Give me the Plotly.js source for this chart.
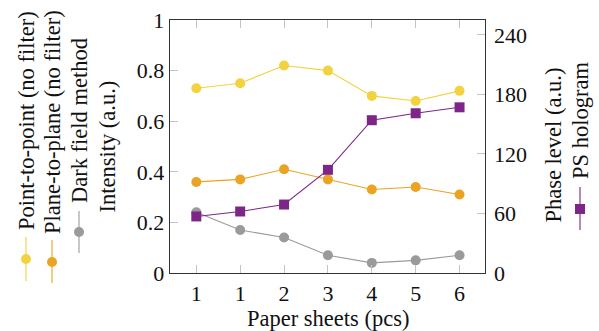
<!DOCTYPE html>
<html>
<head>
<meta charset="utf-8">
<script src="https://cdn.plot.ly/plotly-3.0.1.min.js"></script>
<style>html,body{margin:0;padding:0;background:#fff;}#chart{width:599px;height:331px;}</style>
</head>
<body>
<div id="chart"></div>
<script>
// ---- data ----
const xIndex = [0, 1, 2, 3, 4, 5, 6];
const xTickLabels = ['1', '1', '2', '3', '4', '5', '6'];
const pointToPoint = [0.73, 0.75, 0.82, 0.80, 0.70, 0.68, 0.72];
const planeToPlane = [0.36, 0.37, 0.41, 0.37, 0.33, 0.34, 0.31];
const darkField = [0.24, 0.17, 0.14, 0.07, 0.04, 0.05, 0.07];
const psHologram = [57, 62, 69, 104, 154, 161, 167];
const leftTicks = [0, 0.2, 0.4, 0.6, 0.8, 1];
const leftTickText = ['0', '0.2', '0.4', '0.6', '0.8', '1'];
const rightTicks = [0, 60, 120, 180, 240];

// ---- style ----
const C_YEL = '#f2d23e', C_ORG = '#eaa323', C_GRY = '#9a9a9a', C_PUR = '#7d2687';
const FONT = '"Liberation Serif", "Times New Roman", serif';
const FS = 22.5;
const W = 599, H = 331;
const M = {l: 170, r: 114, t: 20, b: 58};
const PW = W - M.l - M.r, PH = H - M.t - M.b;
const px = v => (v - M.l) / PW;
const py = v => (H - M.b - v) / PH;

function tr(y, color, yaxis, symbol) {
  return {x: xIndex, y: y, type: 'scatter', mode: 'lines+markers', yaxis: yaxis,
    line: {color: color, width: 1.1}, marker: {color: color, size: 10, symbol: symbol},
    showlegend: false, hoverinfo: 'skip'};
}
const data = [
  tr(pointToPoint, C_YEL, 'y', 'circle'),
  tr(planeToPlane, C_ORG, 'y', 'circle'),
  tr(darkField, C_GRY, 'y', 'circle'),
  tr(psHologram, C_PUR, 'y2', 'square')
];

function rotText(text, x, y) {
  return {text: text, xref: 'paper', yref: 'paper', x: px(x), y: py(y), textangle: -90,
    showarrow: false, xanchor: 'center', yanchor: 'middle', font: {family: FONT, size: FS, color: '#111'}};
}
const annotations = [
  rotText('Point-to-point (no filter)', 26, 121),
  rotText('Plane-to-plane (no filter)', 52, 122),
  rotText('Dark field method', 79, 121),
  rotText('Intensity (a.u.)', 107, 146.5),
  rotText('Phase level (a.u.)', 553, 145.5),
  rotText('PS hologram', 580, 121),
  {text: 'Paper sheets (pcs)', xref: 'paper', yref: 'paper', x: 0.5, y: py(318.5), showarrow: false,
    xanchor: 'center', yanchor: 'middle', borderpad: 0, font: {family: FONT, size: FS, color: '#111'}}
];

function legSym(x, yc, y0, y1, color, kind) {
  const s = [{type: 'line', xref: 'paper', yref: 'paper', x0: px(x), x1: px(x), y0: py(y0), y1: py(y1),
    line: {color: color, width: 1.1}}];
  s.push({type: kind === 'square' ? 'rect' : 'circle', xref: 'paper', yref: 'paper',
    xsizemode: 'pixel', ysizemode: 'pixel', xanchor: px(x), yanchor: py(yc),
    x0: -5, x1: 5, y0: -5, y1: 5, fillcolor: color, line: {width: 0}});
  return s;
}
const shapes = [].concat(
  legSym(26, 259, 237, 281, C_YEL, 'circle'),
  legSym(52, 262, 240, 283, C_ORG, 'circle'),
  legSym(79, 232, 211, 253, C_GRY, 'circle'),
  legSym(580, 209, 187, 230, C_PUR, 'square')
);

const tickFont = {family: FONT, size: 22, color: '#111'};
const layout = {
  width: W, height: H, margin: M, paper_bgcolor: '#fff', plot_bgcolor: '#fff',
  showlegend: false,
  xaxis: {range: [-0.6, 6.58], tickvals: xIndex, ticktext: xTickLabels, ticks: 'inside', ticklen: 8,
    tickcolor: '#c4c4c4', tickwidth: 1, showline: true, linecolor: '#333', linewidth: 1.3, mirror: 'ticks',
    showgrid: false, zeroline: false, tickfont: tickFont, fixedrange: true},
  yaxis: {range: [0, 1], tickvals: leftTicks, ticktext: leftTickText, ticks: 'inside', ticklen: 8,
    tickcolor: '#c4c4c4', tickwidth: 1, showline: true, linecolor: '#333', linewidth: 1.3, mirror: true,
    showgrid: false, zeroline: false, tickfont: tickFont, fixedrange: true},
  yaxis2: {range: [0, 255], tickvals: rightTicks, overlaying: 'y', side: 'right', ticks: 'inside', ticklen: 8,
    tickcolor: '#c4c4c4', tickwidth: 1, showline: false, showgrid: false, zeroline: false,
    ticklabelstandoff: 8, tickfont: tickFont, fixedrange: true},
  annotations: annotations,
  shapes: shapes
};
Plotly.newPlot('chart', data, layout, {staticPlot: true});
</script>
</body>
</html>
